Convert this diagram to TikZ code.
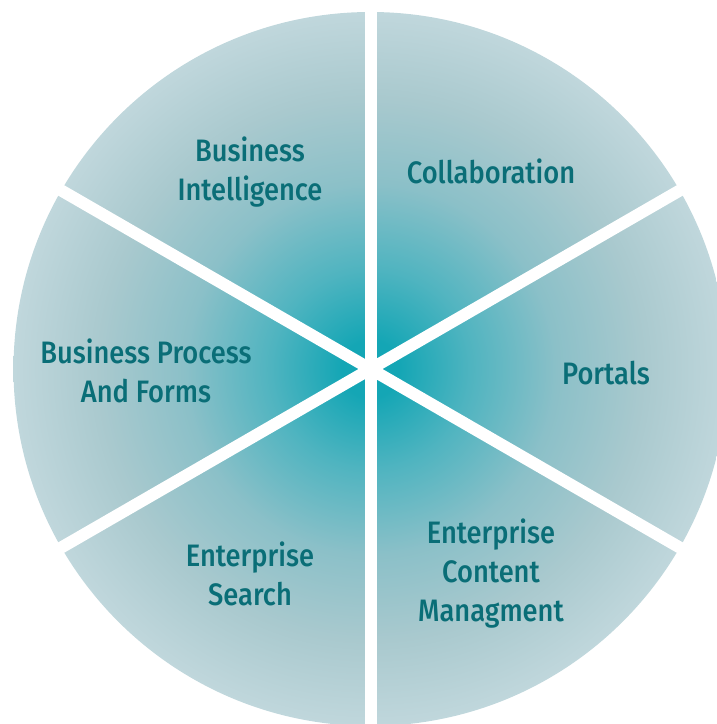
\documentclass[tikz,border=0pt]{standalone}
\usepackage{fontspec}
\setmainfont{Fira Sans}[UprightFont=* Medium, FakeStretch=0.88]
\usetikzlibrary{calc}
\definecolor{pc0}{HTML}{14A6B5}
\definecolor{pc1}{HTML}{4FB4C0}
\definecolor{pc2}{HTML}{8BC0C8}
\definecolor{pc3}{HTML}{A9C9CE}
\definecolor{pc4}{HTML}{C0D7DC}
\definecolor{txt}{HTML}{0A6E77}
\pgfdeclareradialshading{piegrad}{\pgfpointorigin}{color(0bp)=(pc0); color(2bp)=(pc0); color(7bp)=(pc1); color(13bp)=(pc2); color(19bp)=(pc3); color(25bp)=(pc4); color(50bp)=(pc4)}
\tikzset{
  lbl/.style={text=txt, align=center, anchor=base, inner sep=0pt, font=\fontsize{31bp}{39bp}\selectfont},
  gap/.style={white, line width=12bp}
}
\begin{document}
\begin{tikzpicture}[x=1bp,y=-1bp]
\useasboundingbox (0,0) rectangle (717,724);
\coordinate (c) at (370.5,369);
\shade[shading=piegrad] (c) circle[radius=357];
\foreach \a in {90,30,150}{
  \coordinate (g1) at ($(c)+(\a:380)$);
  \coordinate (g2) at ($(c)+(\a+180:380)$);
  \draw[gap] (g1) -- (g2);
}
\node[lbl] (bi) at (250,200) {Business\\Intelligence};
\node[lbl] (col) at (491,183) {Collaboration};
\node[lbl] (bpf) at (146,402) {Business Process\\And Forms};
\node[lbl] (por) at (606,384) {Portals};
\node[lbl] (es) at (250,605) {Enterprise\\Search};
\node[lbl] (ecm) at (491,621) {Enterprise\\Content\\Managment};
\end{tikzpicture}
\end{document}
